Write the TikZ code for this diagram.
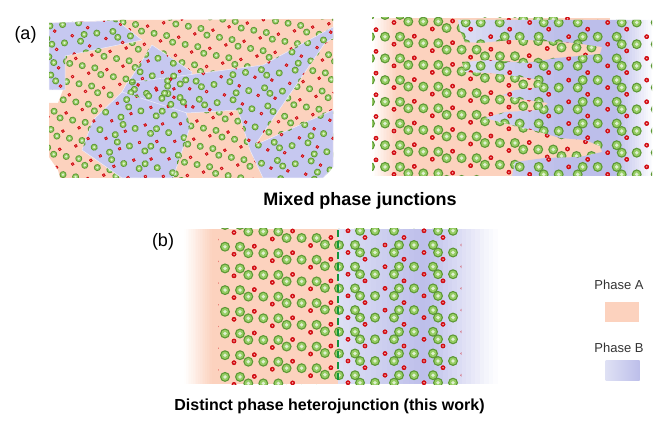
\documentclass[tikz,border=0pt]{standalone}
\usepackage{fontspec}
\setmainfont{Liberation Sans}
\usetikzlibrary{calc}

\definecolor{phaseA}{RGB}{252,210,190}
\definecolor{lavL}{RGB}{222,224,244}
\definecolor{lavD}{RGB}{188,190,234}
\definecolor{lavM}{RGB}{198,200,240}
\definecolor{gDark}{RGB}{92,152,52}
\definecolor{gMid}{RGB}{150,205,100}
\definecolor{rDark}{RGB}{210,14,20}
\definecolor{lineG}{RGB}{20,150,60}

\newsavebox\gbig \newsavebox\gsmall \newsavebox\rbig \newsavebox\rsmall
\let\gcur\gbig \let\rcur\rbig
% one ball, drawn once and reused
\newcommand\ballbox[6]{\sbox#1{\pgfpicture
  \pgfsetfillcolor{#2}\pgfpathcircle{\pgfpointorigin}{#3}\pgfusepath{fill}%
  \pgfsetfillcolor{#4}\pgfpathcircle{\pgfpointorigin}{#5}\pgfusepath{fill}%
  \pgfsetfillcolor{white!70!#4}\pgfpathcircle{\pgfpointorigin}{#6}\pgfusepath{fill}%
  \endpgfpicture}}
\newcommand\grain[2]{\pgfmathsetmacro\gx{#1}\pgfmathsetmacro\gy{#2}\pgftext[at={\pgfpointxy{\gx}{\gy}}]{\usebox\gcur}}
\newcommand\oxy[2]{\pgfmathsetmacro\gx{#1}\pgfmathsetmacro\gy{#2}\pgftext[at={\pgfpointxy{\gx}{\gy}}]{\usebox\rcur}}
% colour ramp in thin strips: x0, x1, y0, y1, from, to
\newcommand\fade[6]{\pgfmathsetmacro\fw{(#2-#1)/16}%
  \foreach \k in {0,...,15}{\pgfmathtruncatemacro\fp{100*(\k+0.5)/16}\pgfmathsetmacro\fx{#1+\fw*\k}%
    \fill[#6!\fp!#5] (\fx,#3) rectangle ({\fx+\fw+0.4},#4);}}
% phase A: groups of three along steps
\newcommand\phaseA[4]{%
  \foreach \i in {#1,...,#2}{\foreach \j in {#3,...,#4}{%
    \pgfmathsetmacro\ax{38.3*\i}\pgfmathsetmacro\ay{6.5*\i+21.7*\j}%
    \grain{\ax}{\ay}\grain{\ax+15}{\ay}\grain{\ax+30}{\ay}%
    \oxy{\ax+24}{\ay+7.5}\oxy{\ax+6}{\ay-7}}}}
% phase B: two mirrored half cells
\newcommand\phaseB[4]{%
  \foreach \i in {#1,...,#2}{\foreach \j in {#3,...,#4}{%
    \pgfmathsetmacro\bx{78*\i}\pgfmathsetmacro\by{21.7*\j}%
    \grain{\bx}{\by}\grain{\bx+5}{\by+7.5}\grain{\bx+20}{\by+7.5}%
    \oxy{\bx+10}{\by-7.5}\oxy{\bx+30}{\by}%
    \grain{\bx+39}{\by+7.5}\grain{\bx+44}{\by}\grain{\bx+59}{\by}%
    \oxy{\bx+49}{\by-7.5}\oxy{\bx+69}{\by+7.5}}}}

\def\mosaic{(49,23) -- (118,20) -- (333,19) -- (333,167) -- (323,178) -- (60,178) -- (58,170) -- (49,157) -- (49,103) -- (58,103) -- (63,90) -- (49,90) -- cycle}
\def\grainP{(49,23) -- (117,20.5) -- (142,40) -- (65,56) -- (65,90) -- (49,90) -- cycle}
\def\grainQ{(152,45) -- (192,72) -- (186,112) -- (190,127) -- (173,178) -- (122,178) -- (82,150) -- (93,120) -- (122,92) -- cycle}
\def\grainR{(127,83) -- (263,65) -- (333,27) -- (333,38) -- (325,43) -- (255,145) -- (333,110) -- (333,167) -- (323,178) -- (263,178) -- (250,150) -- (238,110) -- (187,113) -- (122,92) -- cycle}
\def\lavfront{(458,20) -- (652,20) -- (652,176) -- (512,176) -- (515,162) -- (545,158) -- (580,157) -- (602,152) -- (600,146) -- (585,140) -- (560,138) -- (540,132) -- (520,127) -- (500,122) -- (485,118) -- (505,112) -- (540,110) -- (548,103) -- (520,99) -- (503,95) -- (515,90) -- (543,87) -- (540,80) -- (515,76) -- (490,73) -- (465,72) -- (462,62) -- (490,60) -- (527,63) -- (557,58) -- (600,54) -- (602,47) -- (575,43) -- (557,42) -- (530,40) -- (510,40) -- (480,43) -- (465,42) -- (460,30) -- cycle}

\begin{document}
\ballbox{\gbig}{gDark}{5pt}{gMid}{3.7pt}{1.9pt}
\ballbox{\gsmall}{gDark}{3.5pt}{gMid}{2.5pt}{1.3pt}
\ballbox{\rbig}{rDark}{2.3pt}{rDark}{2.3pt}{0.8pt}
\ballbox{\rsmall}{rDark}{1.8pt}{rDark}{1.8pt}{0.5pt}
\begin{tikzpicture}[x=1pt,y=-1pt,
  panellabel/.style={font=\fontsize{18}{20}\selectfont},
  captext/.style={font=\bfseries\fontsize{18}{20}\selectfont, anchor=base, inner sep=0pt},
  legtext/.style={font=\fontsize{13}{15}\selectfont, text=black!80},
  legbox/.style={minimum width=34pt, minimum height=20pt, inner sep=0pt},
  junction/.style={draw=lineG, line width=2.2pt, dash pattern=on 7pt off 4pt},
  grainedge/.style={fill=lavM, draw=white!70!lavM, line width=0.5pt}]
			%%%%% START %%%%%
			\useasboundingbox (0,0) rectangle (668,427);
			
			%%%%% (a) mosaic of grains %%%%%
			\fill[phaseA] \mosaic;
			\begin{scope}
				\let\gcur\gsmall \let\rcur\rsmall
				\clip \mosaic;
				\begin{scope}[shift={(45,16)},rotate=-10,x=0.85pt,y=-0.85pt]
					\phaseA{-1}{9}{-6}{12}
				\end{scope}
			\end{scope}
			\filldraw[grainedge] \grainP;
			\filldraw[grainedge] \grainQ;
			\filldraw[grainedge] \grainR;
			\begin{scope}
				\let\gcur\gsmall \let\rcur\rsmall
				\clip \grainP;
				\begin{scope}[shift={(45,20)},rotate=6,x=0.85pt,y=-0.85pt]
					\phaseB{-1}{2}{-1}{5}
				\end{scope}
			\end{scope}
			\begin{scope}
				\let\gcur\gsmall \let\rcur\rsmall
				\clip \grainQ;
				\begin{scope}[shift={(75,44)},rotate=-18,x=0.85pt,y=-0.85pt]
					\phaseB{-1}{2}{-3}{10}
				\end{scope}
			\end{scope}
			\begin{scope}
				\let\gcur\gsmall \let\rcur\rsmall
				\clip \grainR;
				\begin{scope}[shift={(118,20)},rotate=10,x=0.85pt,y=-0.85pt]
					\phaseB{-1}{4}{-4}{11}
				\end{scope}
			\end{scope}
			
			%%%%% (a) mixed front %%%%%
			\fade{372}{396}{18}{176}{white}{phaseA}
			\fill[phaseA] (396,18) rectangle (610,176);
			\begin{scope}
				\clip (372,18) rectangle (610,176);
				\begin{scope}[shift={(370,36.7)}]
					\phaseA{0}{5}{-2}{7}
				\end{scope}
			\end{scope}
			\begin{scope}
				\clip \lavfront;
				\fade{456}{560}{18}{178}{lavL}{lavD}
				\fill[lavD] (560,18) rectangle (616,178);
				\fade{616}{653}{18}{178}{lavD}{white}
				\begin{scope}[shift={(460.7,36.7)}]
					\phaseB{0}{2}{-1}{6}
				\end{scope}
			\end{scope}
			
			\node[panellabel] (la) at (25.5,35) {(a)};
			\node[captext] (mixed) at (360,205.7) {Mixed phase junctions};
			
			%%%%% (b) heterojunction %%%%%
			\fade{184}{212}{229}{384}{white}{phaseA}
			\fill[phaseA] (212,229) rectangle (338,384);
			\fade{338}{425}{229}{384}{lavL}{lavD}
			\fade{425}{498}{229}{384}{lavD}{white}
			\begin{scope}
				\clip (218,229) rectangle (335,384);
				\begin{scope}[shift={(210,246.7)}]
					\phaseA{0}{3}{-2}{7}
				\end{scope}
			\end{scope}
			\begin{scope}
				\clip (333,229) rectangle (461,384);
				\begin{scope}[shift={(355,245)}]
					\phaseB{0}{1}{-1}{6}
				\end{scope}
				\foreach \j in {-1,...,6}{
					\grain{339}{245+21.7*\j}
					\oxy{348}{252.5+21.7*\j}
				}
			\end{scope}
			\draw[junction] (338,230) -- (338,383);
			
			\node[panellabel] (lb) at (163,242) {(b)};
			\node[captext, font=\bfseries\fontsize{16}{18}\selectfont] (distinct) at (329.5,410.7) {Distinct phase heterojunction (this work)};
			
			%%%%% legend %%%%%
			\node[legtext] (pa) at (619,285) {Phase A};
			\node[legbox, fill=phaseA] (boxa) at (622,311.7) {};
			\node[legtext] (pb) at (619,348) {Phase B};
			\node[legbox, left color=lavL, right color=lavD] (boxb) at (622.5,370.4) {};
			%%%%% END %%%%%
\end{tikzpicture}
\end{document}
